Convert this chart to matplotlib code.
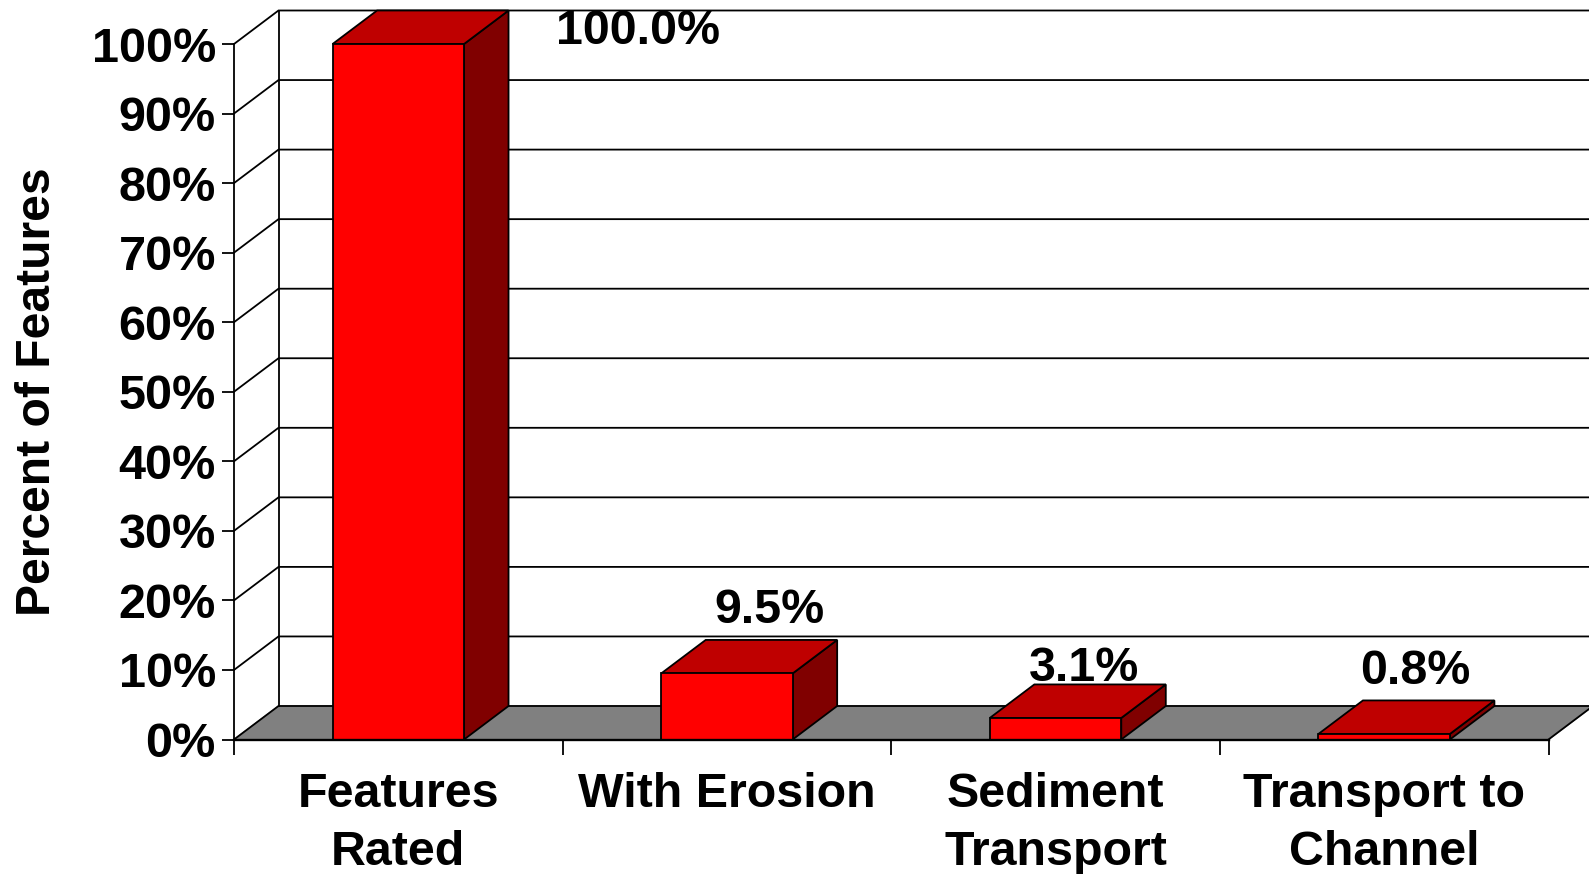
import numpy as np
import matplotlib
matplotlib.use("Agg")
import matplotlib.pyplot as plt

# chart data
categories = ["Features\nRated", "With Erosion", "Sediment\nTransport", "Transport to\nChannel"]
values = [100.0, 9.5, 3.1, 0.8]
value_labels = ["100.0%", "9.5%", "3.1%", "0.8%"]
y_ticks = [0, 10, 20, 30, 40, 50, 60, 70, 80, 90, 100]

plt.rcParams['font.family'] = ['Liberation Sans', 'DejaVu Sans']

W, H = 1589, 874
x0, x1 = 234, 1548.5      # front plane in pixels
y0, y100 = 739.5, 44
fig = plt.figure(figsize=(W / 100, H / 100), dpi=100)
ax = fig.add_axes([x0 / W, 1 - y0 / H, (x1 - x0) / W, (y0 - y100) / H])
ax.set_xlim(0, 4)
ax.set_ylim(0, 100)
ax.patch.set_visible(False)

# fake 3d depth, in data units
dx = 44.5 / ((x1 - x0) / 4)
dy = 33.5 / ((y0 - y100) / 100)
lw = 1.3
bar_w = 0.4

# back wall and floor
ax.fill([0, dx, 4 + dx, 4], [0, dy, dy, 0], color="#808080", zorder=1, clip_on=False)
for t in y_ticks:
    ax.plot([0, dx, 4 + dx], [t, t + dy, t + dy], color="black", lw=lw, zorder=1.5,
            clip_on=False, solid_joinstyle="miter")
ax.plot([dx, dx], [dy, 100 + dy], color="black", lw=lw, zorder=1.5, clip_on=False)
ax.plot([4, 4 + dx], [0, dy], color="black", lw=lw, zorder=1.5, clip_on=False)

# bars
for i, v in enumerate(values):
    left = i + 0.5 - bar_w / 2
    right = left + bar_w
    z = 3 + i
    ax.bar(i + 0.5, v, width=bar_w, color="#FF0000", edgecolor="black", linewidth=lw,
           zorder=z + 0.2, clip_on=False)
    ax.fill([right, right + dx, right + dx, right], [0, dy, v + dy, v], facecolor="#800000",
            edgecolor="black", linewidth=lw, zorder=z, clip_on=False)
    ax.fill([left, left + dx, right + dx, right], [v, v + dy, v + dy, v], facecolor="#BF0000",
            edgecolor="black", linewidth=lw, zorder=z + 0.1, clip_on=False)

# value labels are placed by hand in the original
label_offsets = [(240, 13), (42, 63), (28, 49), (31, 62)]
for i, v in enumerate(values):
    ox, oy = label_offsets[i]
    ax.annotate(value_labels[i], (i + 0.5, v), xytext=(ox, oy), textcoords="offset pixels",
                ha="center", va="center", fontsize=34.8, fontweight="bold", zorder=10,
                annotation_clip=False)

# axes
for s in ["top", "right"]:
    ax.spines[s].set_visible(False)
ax.spines["left"].set_linewidth(lw)
ax.spines["bottom"].set_linewidth(lw * 1.3)
ax.spines["bottom"].set_zorder(9)
ax.set_yticks(y_ticks)
ax.set_yticklabels([f"{t}%" for t in y_ticks], fontsize=35, fontweight="bold")
ax.tick_params(axis="y", length=8.6, width=lw, pad=4.5)
ax.set_xticks(np.arange(5))
ax.set_xticklabels([])
ax.tick_params(axis="x", which="major", length=10.5, width=lw)
ax.set_xticks(np.arange(4) + 0.5, minor=True)
ax.set_xticklabels(categories, minor=True, fontsize=34.8, fontweight="bold", linespacing=1.36)
ax.tick_params(axis="x", which="minor", length=0, pad=23.5)

fig.text(38 / W, 1 - 392 / H, "Percent of Features", rotation=90, ha="center", va="center",
         fontsize=34.6, fontweight="bold")

fig.savefig("out.png", dpi=100)
